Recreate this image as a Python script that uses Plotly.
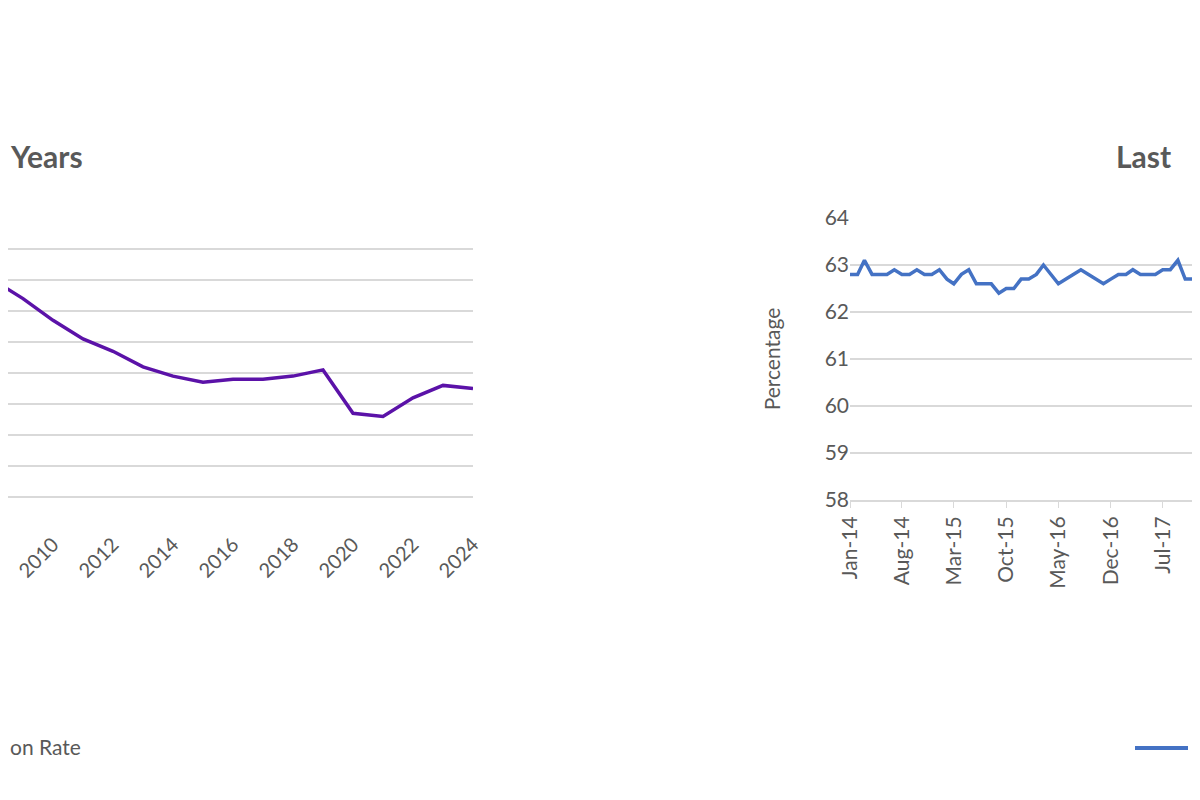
import plotly.graph_objects as go
import pandas as pd

# ----- left chart: annual rate, last 20 years
years = list(range(2004, 2025))
annual_rate = [66.0, 66.0, 66.2, 66.0, 66.0, 65.4, 64.7, 64.1, 63.7, 63.2, 62.9,
               62.7, 62.8, 62.8, 62.9, 63.1, 61.7, 61.6, 62.2, 62.6, 62.5]

# ----- right chart: monthly rate, last 10 years (visible part)
months = pd.date_range("2014-01-01", "2018-02-01", freq="MS")
monthly_rate = [62.8, 62.8, 63.1, 62.8, 62.8, 62.8, 62.9, 62.8, 62.8, 62.9, 62.8, 62.8,
                62.9, 62.7, 62.6, 62.8, 62.9, 62.6, 62.6, 62.6, 62.4, 62.5, 62.5, 62.7,
                62.7, 62.8, 63.0, 62.8, 62.6, 62.7, 62.8, 62.9, 62.8, 62.7, 62.6, 62.7,
                62.8, 62.8, 62.9, 62.8, 62.8, 62.8, 62.9, 62.9, 63.1, 62.7, 62.7, 62.7,
                62.7, 62.7]

FONT = "Lato"
GREY = "#595959"
GRID = "#d9d9d9"

fig = go.Figure()
fig.add_trace(go.Scatter(x=years, y=annual_rate, mode="lines",
                         line=dict(color="#5b12a8", width=3.5),
                         xaxis="x", yaxis="y", showlegend=False))
fig.add_trace(go.Scatter(x=months, y=monthly_rate, mode="lines",
                         line=dict(color="#4472c4", width=3.5),
                         xaxis="x2", yaxis="y2", showlegend=False))

fig.update_layout(
    width=1200, height=800,
    margin=dict(l=0, r=0, t=0, b=0),
    paper_bgcolor="white", plot_bgcolor="white",
    font=dict(family=FONT, color=GREY, size=20),
    xaxis=dict(domain=[0, 465 / 1200], range=[2008.5, 2024], tickmode="array",
               tickvals=list(range(2008, 2025, 2)), tickangle=-45, automargin=False,
               showgrid=False, zeroline=False, showline=False,
               tickfont=dict(size=20, color=GREY)),
    yaxis=dict(domain=[1 - 520 / 800, 1 - 210 / 800], range=[58, 68], dtick=1,
               automargin=False, showticklabels=False, gridcolor=GRID, gridwidth=2,
               zeroline=False),
    xaxis2=dict(domain=[842 / 1200, 1], anchor="y2", type="date", automargin=False,
                range=["2014-01-01", "2018-01-02"], tick0="2014-01-01", dtick="M7",
                tickformat="%b-%y", tickangle=-90, showgrid=False,
                showline=True, linecolor=GRID, linewidth=2,
                ticks="outside", ticklen=6, tickcolor=GRID,
                tickfont=dict(size=21, color=GREY)),
    yaxis2=dict(domain=[1 - 492 / 800, 1 - 210 / 800], anchor="x2", automargin=False,
                range=[58, 64], dtick=1, gridcolor=GRID, gridwidth=2,
                zeroline=False, tickfont=dict(size=21, color=GREY),
                title=dict(text="Percentage", font=dict(size=21, color=GREY), standoff=38)),
)

# titles and legends: only the parts visible in this view
fig.add_annotation(text="<b>Years</b>", x=0, y=1 - 148 / 800,
                   xref="paper", yref="paper", xanchor="left", yanchor="middle",
                   showarrow=False, font=dict(size=30, color=GREY))
fig.add_annotation(text="<b>Last</b>", x=1106 / 1200, y=1 - 148 / 800,
                   xref="paper", yref="paper", xanchor="left", yanchor="middle",
                   showarrow=False, font=dict(size=30, color=GREY))
fig.add_annotation(text="on Rate", x=0, y=1 - 738 / 800,
                   xref="paper", yref="paper", xanchor="left", yanchor="middle",
                   showarrow=False, font=dict(size=21, color=GREY))
fig.add_annotation(text="P", x=1186 / 1200, y=1 - 740 / 800,
                   xref="paper", yref="paper", xanchor="left", yanchor="middle",
                   showarrow=False, font=dict(size=21, color=GREY))
fig.add_shape(type="line", x0=1127 / 1200, x1=1180 / 1200, y0=1 - 740 / 800, y1=1 - 740 / 800,
              xref="paper", yref="paper", line=dict(color="#4472c4", width=4))

fig.write_html("out.html")
